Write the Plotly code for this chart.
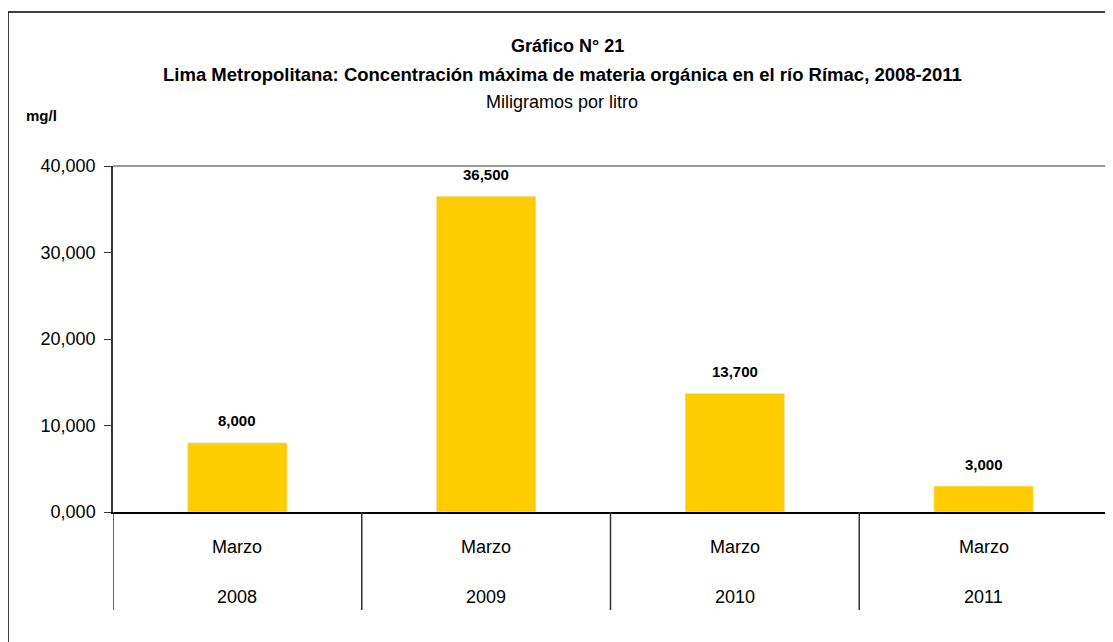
import plotly.graph_objects as go

years = ["2008", "2009", "2010", "2011"]
months = ["Marzo", "Marzo", "Marzo", "Marzo"]
values = [8000, 36500, 13700, 3000]
value_labels = ["8,000", "36,500", "13,700", "3,000"]
y_ticks = [0, 10000, 20000, 30000, 40000]
y_tick_labels = ["0,000", "10,000", "20,000", "30,000", "40,000"]

FONT = "Liberation Sans, Arial"
# page body adds an 8px margin, so the figure is drawn 8px smaller/shifted
OFF = 8
W, H = 1113 - OFF, 642 - OFF
L, R, T, B = 105, 5, 158, 130
pw, ph = W - L - R, H - T - B


def px_x(x):
    return (x - OFF - L) / pw


def px_y(y):
    return (H - B - (y - OFF)) / ph


fig = go.Figure(
    go.Bar(
        x=years,
        y=values,
        marker_color="#FFCC00",
        width=0.4,
    )
)

annotations = [
    dict(text="<b>Gráfico N° 21</b>", x=px_x(567), y=px_y(46), font=dict(size=18)),
    dict(text="<b>Lima Metropolitana: Concentración máxima de materia orgánica en el río Rímac, 2008-2011</b>",
         x=px_x(562), y=px_y(74), font=dict(size=18.5)),
    dict(text="Miligramos por litro", x=px_x(562), y=px_y(102), font=dict(size=18)),
    dict(text="<b>mg/l</b>", x=px_x(41), y=px_y(115), font=dict(size=15)),
]
for a in annotations:
    a.update(xref="paper", yref="paper", showarrow=False, xanchor="center", yanchor="middle")

# value labels above bars and the two rows of category labels
for i, (yr, mo, v, lab) in enumerate(zip(years, months, values, value_labels)):
    annotations.append(dict(x=i, y=v, text=f"<b>{lab}</b>", xref="x", yref="y",
                            showarrow=False, yshift=22, font=dict(size=15)))
    annotations.append(dict(x=i, y=px_y(547), text=mo, xref="x", yref="paper",
                            showarrow=False, yanchor="middle", font=dict(size=18)))
    annotations.append(dict(x=i, y=px_y(597), text=yr, xref="x", yref="paper",
                            showarrow=False, yanchor="middle", font=dict(size=18)))

shapes = [
    dict(type="rect", xref="paper", yref="paper",
         x0=px_x(8), x1=px_x(1140), y0=px_y(670), y1=px_y(12),
         line=dict(color="black", width=1.5)),
    # plot area frame: grey top and right lines
    dict(type="line", xref="paper", yref="paper", x0=0, x1=1, y0=1, y1=1,
         line=dict(color="#999", width=2)),
    dict(type="line", xref="paper", yref="paper", x0=1, x1=1, y0=0, y1=1,
         line=dict(color="#999", width=2)),
]
# category dividers below the axis
for i in range(len(years) + 1):
    shapes.append(dict(type="line", xref="x", yref="paper", x0=i - 0.5, x1=i - 0.5,
                       y0=0, y1=px_y(610), line=dict(color="#333", width=1.5)))

fig.update_layout(
    width=W,
    height=H,
    margin=dict(l=L, r=R, t=T, b=B, autoexpand=False),
    plot_bgcolor="white",
    paper_bgcolor="white",
    showlegend=False,
    font=dict(family=FONT, color="black"),
    annotations=annotations,
    shapes=shapes,
)

fig.update_yaxes(
    range=[0, 40000],
    tickvals=y_ticks,
    ticktext=y_tick_labels,
    tickfont=dict(size=18),
    ticks="outside",
    ticklen=7,
    tickcolor="#333",
    ticklabelstandoff=5,
    showgrid=False,
    showline=True,
    linecolor="#333",
    linewidth=1.5,
    zeroline=False,
)
fig.update_xaxes(
    type="category",
    range=[-0.5, len(years) - 0.5],
    showticklabels=False,
    ticks="",
    showline=True,
    linecolor="black",
    linewidth=1.5,
    showgrid=False,
)

fig.write_html("out.html")
